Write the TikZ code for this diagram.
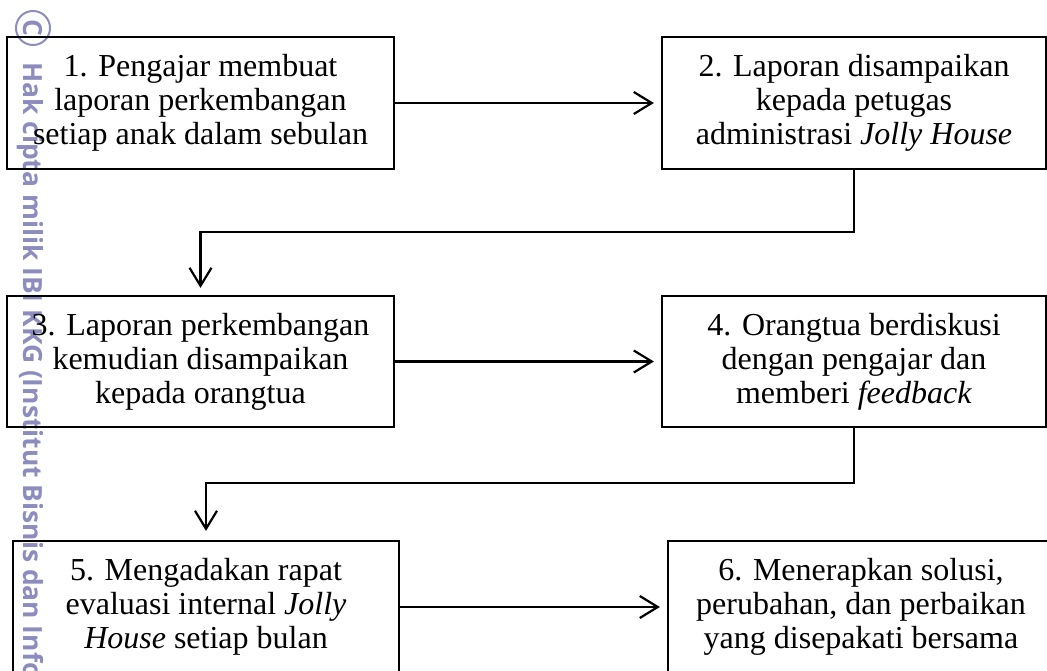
\documentclass[tikz,border=0pt]{standalone}
\usepackage{fontspec}
\setmainfont{Liberation Serif}
\newfontfamily\wmfont{Open Sans}
\usetikzlibrary{arrows.meta,calc}
\definecolor{wmcol}{RGB}{140,140,190}
\begin{document}
\begin{tikzpicture}[x=1pt,y=-1pt,
  box/.style={draw, line width=2.2pt, minimum width=387pt, minimum height=132pt, align=center, inner sep=0pt, font=\fontsize{32}{34}\selectfont},
  arr/.style={line width=2.2pt, -{Straight Barb[length=18pt,width=22pt]}},
  wmtext/.style={text=wmcol, inner sep=0pt, font=\wmfont\bfseries\fontsize{26.4}{26.4}\selectfont}]
\useasboundingbox (0,0) rectangle (1047,671);
\clip (0,0) rectangle (1047,671);
% watermark
\draw[wmcol, line width=2pt] (33,28) circle (17pt);
\node[wmtext, rotate=-90] (wmc) at (33,28) {C};
\node[wmtext, rotate=-90, anchor=base west] (wm) at (23.5,62) {Hak cipta milik IBI KKG (Institut Bisnis dan Informatika Kwik Kian Gie)};
% boxes
\node[box] (b1) at (200.5,103) {1. Pengajar membuat\\laporan perkembangan\\setiap anak dalam sebulan};
\node[box, minimum width=384pt] (b2) at (854,103) {2. Laporan disampaikan\\kepada petugas\\administrasi \textit{Jolly House}};
\node[box, minimum height=131pt] (b3) at (200.5,361.5) {3. Laporan perkembangan\\kemudian disampaikan\\kepada orangtua};
\node[box, minimum width=384pt, minimum height=131pt] (b4) at (854,361.5) {4. Orangtua berdiskusi\\dengan pengajar dan\\memberi \textit{feedback}};
\node[box, minimum width=386pt] (b5) at (206,607) {5. Mengadakan rapat\\evaluasi internal \textit{Jolly}\\\textit{House} setiap bulan};
\node[box, minimum width=386pt] (b6) at (861,607) {6. Menerapkan solusi,\\perubahan, dan perbaikan\\yang disepakati bersama};
% connectors
\draw[arr, shorten >=7pt] (b1.east) -- (b2.west);
\draw[arr, shorten >=7pt] (b3.east) -- (b4.west);
\draw[arr, shorten >=7pt] (b5.east) -- (b6.west);
\coordinate (k1) at ($(b3.north)+(0,-63)$);
\coordinate (k2) at ($(b5.north)+(0,-57)$);
\draw[arr, shorten >=7pt] (b2.south) |- (k1) -- (b3.north);
\draw[arr, shorten >=9pt] (b4.south) |- (k2) -- (b5.north);
\end{tikzpicture}
\end{document}
